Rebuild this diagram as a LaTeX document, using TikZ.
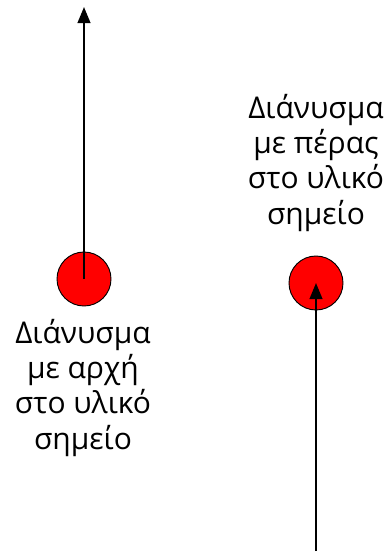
\documentclass[tikz,border=0pt]{standalone}
\usepackage{fontspec}
\setmainfont{Open Sans}
\usetikzlibrary{arrows.meta,positioning}
\definecolor{dotred}{HTML}{FF0000}

\begin{document}
\begin{tikzpicture}[x=0.75pt, y=-0.75pt, every node/.style={font=\fontsize{22.5}{26.4}\selectfont}, dot/.style={circle, draw=black, fill=dotred, line width=0.7pt, minimum size=40.5pt, inner sep=0pt}, lbl/.style={align=center, inner sep=0pt, anchor=north}, vec/.style={-{Triangle[length=12pt, width=9.5pt]}, line width=1.5pt}]
        \useasboundingbox (0,0) rectangle (387,557);
        \node[dot] (dotA) at (84,279) {};
        \coordinate (tipA) at (84,7);
        \node[lbl] (txtA) at (83,319) {Διάνυσμα\\με αρχή\\στο υλικό\\σημείο};
        \node[dot] (dotB) at (316,283) {};
        \coordinate (tailB) at (316,551);
        \node[lbl] (txtB) at (316,94) {Διάνυσμα\\με πέρας\\στο υλικό\\σημείο};
        \draw[vec] (dotA.center) -- (tipA);
        \draw[vec] (tailB) -- (dotB.center);
      \end{tikzpicture}
\end{document}
